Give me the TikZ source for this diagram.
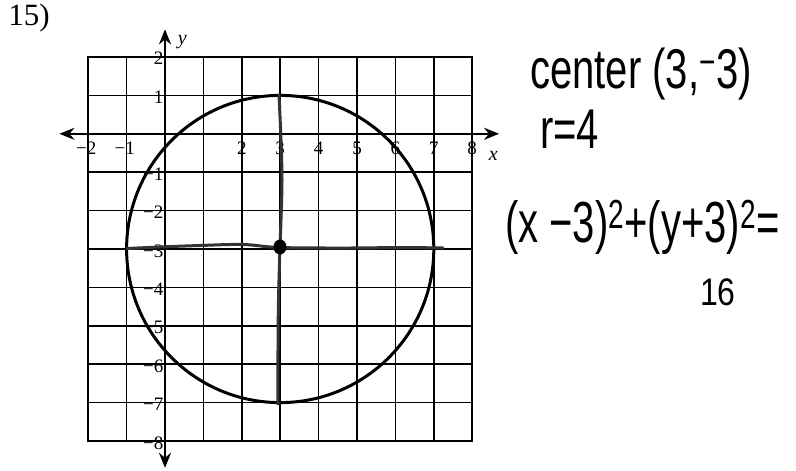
\documentclass[tikz,border=0pt]{standalone}
\usepackage{fontspec}
\setmainfont{Liberation Serif}
\newfontfamily\hand{Liberation Sans}
\usetikzlibrary{arrows.meta}
\begin{document}
\begin{tikzpicture}[x=1pt,y=-1pt,
  gridline/.style={line width=1.5pt},
  axisline/.style={line width=2.4pt, {Stealth[length=15pt,width=12pt]}-{Stealth[length=15pt,width=12pt]}},
  ticklab/.style={font=\fontsize{19}{19}\selectfont, inner sep=0pt},
  axlab/.style={font=\itshape\fontsize{20}{20}\selectfont, inner sep=0pt},
  handtxt/.style={font=\hand\fontsize{40}{40}\selectfont, inner sep=0pt, anchor=base west},
  pencil/.style={line width=3pt, draw=black!80, line cap=round}]
\useasboundingbox (0,0) rectangle (796,471);
\node[font=\fontsize{31}{31}\selectfont, inner sep=0pt] (num) at (29,18) {15)};
\begin{scope}[shift={(165,133.8)}, x=38.4pt, y=38.4pt]
  \draw[gridline, step=1] (-2,-8) grid (8,2);
  \draw[line width=2pt] (-2,-8) rectangle (8,2);
  \coordinate (xl) at (-2.75,0);
  \coordinate (xr) at (8.7,0);
  \coordinate (yb) at (0,-8.7);
  \coordinate (yt) at (0,2.72);
  \draw[axisline] (xl) -- (xr);
  \draw[axisline] (yb) -- (yt);
  \foreach \v [count=\k] in {-2,-1} \node[ticklab] (xt\k) at (\v-0.05,-0.38) {−\the\numexpr-\v\relax};
  \foreach \v [count=\k] in {2,3,4,5,6,7,8} \node[ticklab] (xp\k) at (\v,-0.38) {\v};
  \foreach \v [count=\k] in {2,1} \node[ticklab, anchor=east] (yp\k) at (-0.04,\v-0.04) {\v};
  \foreach \v [count=\k] in {-1,-2,-3,-4,-5,-6,-7,-8} \node[ticklab, anchor=east] (yt\k) at (-0.04,\v-0.05) {−\the\numexpr-\v\relax};
  \node[axlab] (ylab) at (0.45,2.4) {y};
  \node[axlab] (xlab) at (8.55,-0.58) {x};
  \coordinate (ctr) at (3,-3);
  \draw[line width=3pt] (ctr) circle[radius=4];
\end{scope}
% pencil strokes
\draw[pencil] plot[smooth, tension=0.6] coordinates {(127,248.5) (160,247) (200,245.5) (243,244.5) (280,247.5) (350,248) (400,247.5) (443,248)};
\draw[pencil] plot[smooth, tension=0.6] coordinates {(279,95) (281,140) (282,180) (281,220) (280,247) (278.5,300) (278,350) (278,404)};
\fill[black] (280,247) ellipse[x radius=6.5, y radius=7.5];
% handwritten notes
\node[handtxt] (cen) at (530,88) {\scalebox{1}[1.4]{center (3,\textsuperscript{−}3)}};
\node[handtxt] (rad) at (540,148) {\scalebox{1}[1.4]{r=4}};
\node[handtxt] (eq) at (505,242) {\scalebox{1}[1.45]{(x −3)\textsuperscript{2}+(y+3)\textsuperscript{2}=}};
\node[handtxt, font=\hand\fontsize{32}{32}\selectfont] (sixteen) at (700,305) {\scalebox{1}[1.2]{16}};
\end{tikzpicture}
\end{document}
